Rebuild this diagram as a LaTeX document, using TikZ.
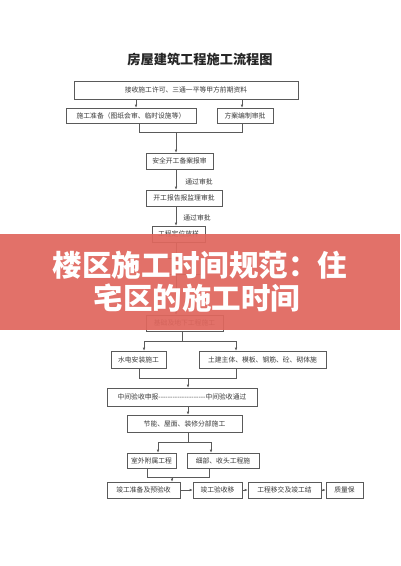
\documentclass[tikz,border=0pt]{standalone}
\usepackage{fontspec}
\newfontfamily\cjk{Noto Sans CJK SC}
\usetikzlibrary{arrows.meta}
\definecolor{lineg}{HTML}{5A5A5A}
\definecolor{txtg}{HTML}{3A3A3A}
\definecolor{bandred}{HTML}{E0675E}
\tikzset{
  flowbox/.style={draw=lineg, line width=0.6pt, inner sep=0pt, font=\cjk\fontsize{6.8}{7}\selectfont, text=txtg, align=center},
  conn/.style={draw=lineg, line width=0.6pt},
  arr/.style={conn, -{Latex[length=3pt,width=2.6pt]}},
  lbl/.style={font=\cjk\fontsize{6.8}{7}\selectfont, text=txtg, inner sep=0pt}
}
\begin{document}
\begin{tikzpicture}[x=1pt,y=-1pt]
\useasboundingbox (0,0) rectangle (400,566);
\fill[white] (0,0) rectangle (400,566);
% title
\node[font=\cjk\bfseries\fontsize{13.2}{14}\selectfont, text=black!85] (title) at (200,59) {房屋建筑工程施工流程图};
% boxes
\node[flowbox, minimum width=224pt, minimum height=18pt] (b1) at (186,90) {接收施工许可、三通一平等甲方前期资料};
\node[flowbox, minimum width=130pt, minimum height=15pt] (b2) at (131,115.5) {施工准备（图纸会审、临时设施等）};
\node[flowbox, minimum width=56pt, minimum height=15pt] (b3) at (245,115.5) {方案编制审批};
\node[flowbox, minimum width=67pt, minimum height=16pt] (b4) at (179.5,161) {安全开工备案报审};
\node[flowbox, minimum width=76pt, minimum height=16pt] (b5) at (184,198) {开工报告报监理审批};
\node[flowbox, minimum width=53pt, minimum height=16pt] (b6) at (178.5,234) {工程定位放样};
\node[flowbox, minimum width=42pt, minimum height=16pt] (h1) at (179,266) {};
\node[flowbox, minimum width=77pt, minimum height=16pt] (b7) at (184.5,323) {基础及地下工程施工};
\node[flowbox, minimum width=55pt, minimum height=17pt] (b8) at (138.5,359.5) {水电安装施工};
\node[flowbox, minimum width=127pt, minimum height=17pt] (b9) at (262.5,359.5) {土建主体、模板、钢筋、砼、砌体施};
\node[flowbox, minimum width=150pt, minimum height=18pt] (b10) at (182,397) {中间验收申报--------------------中间验收通过};
\node[flowbox, minimum width=115pt, minimum height=17pt] (b11) at (184.5,423.5) {节能、屋面、装修分部施工};
\node[flowbox, minimum width=49pt, minimum height=15pt] (b12) at (151.5,460.5) {室外附属工程};
\node[flowbox, minimum width=72pt, minimum height=15pt] (b13) at (223,460.5) {细部、收头工程施};
\node[flowbox, minimum width=73pt, minimum height=16pt] (b14) at (143.5,490) {竣工准备及预验收};
\node[flowbox, minimum width=49pt, minimum height=16pt] (b15) at (217.5,490) {竣工验收移};
\node[flowbox, minimum width=73pt, minimum height=16pt] (b16) at (284.5,490) {工程移交及竣工结};
\node[flowbox, minimum width=37pt, minimum height=16pt] (b17) at (344.5,490) {质量保};
% labels
\node[lbl] (l1) at (199,182) {通过审批};
\node[lbl] (l2) at (197,218) {通过审批};
% connectors
\draw[arr] (b1.south -| 136,0) -- (b2.north -| 136,0);
\draw[arr] (b1.south -| 242,0) -- (b3.north -| 242,0);
\coordinate (j1) at (176,132);
\draw[conn] (b2.south -| 139,0) |- (j1);
\draw[conn] (b3.south -| 242,0) |- (j1);
\draw[arr] (j1) -- (b4.north -| 176,0);
\draw[arr] (b4.south -| 176,0) -- (b5.north -| 176,0);
\draw[arr] (b5.south -| 176,0) -- (b6.north -| 176,0);
\draw[arr] (b6.south -| 176,0) -- (h1.north -| 176,0);
\draw[arr] (h1.south -| 176,0) -- (b7.north -| 176,0);
\coordinate (j2) at (182,341);
\draw[conn] (b7.south -| 182,0) -- (j2);
\draw[arr] (j2) -| (b8.north -| 144,0);
\draw[arr] (j2) -| (b9.north -| 236,0);
\coordinate (j3) at (188,378);
\draw[conn] (b8.south -| 139,0) |- (j3);
\draw[conn] (b9.south -| 236,0) |- (j3);
\draw[arr] (j3) -- (b10.north -| 188,0);
\draw[arr] (b10.south -| 188,0) -- (b11.north -| 188,0);
\coordinate (j4) at (188,442);
\draw[conn] (b11.south -| 188,0) -- (j4);
\draw[arr] (j4) -| (b12.north -| 158,0);
\draw[arr] (j4) -| (b13.north -| 211,0);
\coordinate (j5) at (172,477);
\draw[conn] (b12.south -| 147,0) |- (j5);
\draw[conn] (b13.south -| 209,0) |- (j5);
\draw[arr] (j5) -- (b14.north -| 172,0);
\draw[arr] (b14) -- (b15);
\draw[arr] (b15) -- (b16);
\draw[arr] (b16) -- (b17);
% overlay band
\fill[bandred, opacity=0.93] (0,234) rectangle (400,330);
\node[font=\cjk\bfseries\fontsize{29.5}{30}\selectfont, text=white, inner sep=0pt] (t1) at (200,265) {楼区施工时间规范：住};
\node[font=\cjk\bfseries\fontsize{29.5}{30}\selectfont, text=white, inner sep=0pt] (t2) at (197,298) {宅区的施工时间};
\end{tikzpicture}
\end{document}
